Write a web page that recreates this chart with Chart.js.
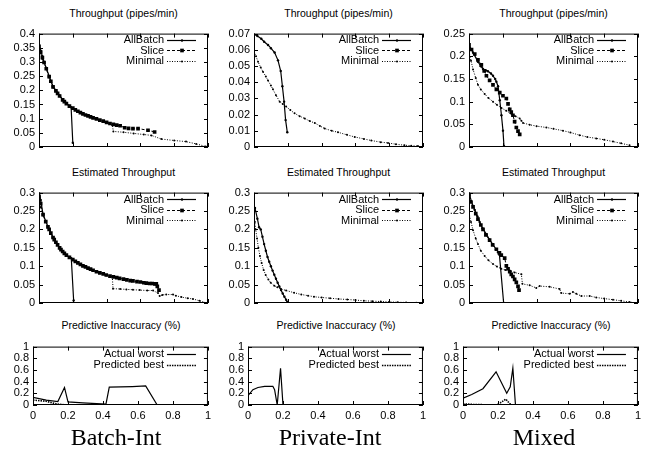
<!DOCTYPE html>
<html>
<head>
<meta charset="utf-8">
<script src="https://cdn.jsdelivr.net/npm/chart.js@4.4.1/dist/chart.umd.min.js"></script>
<style>
  body { margin: 0; background: #fff; width: 651px; height: 454px; position: relative; overflow: hidden;
         font-family: "Liberation Sans", Arial, sans-serif; }
  canvas { position: absolute; }
  .title { position: absolute; width: 220px; text-align: center; font-size: 10.5px; line-height: 12px; color: #000; }
  .label { position: absolute; width: 200px; text-align: center; font-family: "Liberation Serif", "Times New Roman", serif;
           font-size: 24px; line-height: 26px; color: #000; }
</style>
</head>
<body>
<script>
// ---- data -------------------------------------------------------------
const xTicks = [0, 0.2, 0.4, 0.6, 0.8, 1];
const seriesNames = ["AllBatch", "Slice", "Minimal"];
const accuracyNames = ["Actual worst", "Predicted best"];
const columnLabels = ["Batch-Int", "Private-Int", "Mixed"];
const rowTitles = ["Throughput (pipes/min)", "Estimated Throughput", "Predictive Inaccuracy (%)"];
const thrMax = [0.4, 0.07, 0.25];
const thrStep = [0.05, 0.01, 0.05];
const estMax = [0.3, 0.3, 0.3];
const estStep = [0.05, 0.05, 0.05];
const errMax = [1, 1, 1];
const errStep = [0.2, 0.2, 0.2];

// throughput, Batch-Int
const thrBatchAll = [[0,0.36],[0.01,0.34],[0.02,0.32],[0.03,0.3],[0.043,0.279],[0.06,0.25],[0.083,0.214],[0.1,0.2],
  [0.122,0.182],[0.14,0.167],[0.162,0.155],[0.18,0.145],[0.19,0.14],[0.2,0.015]];
const thrBatchSlice = [[0,0.355],[0.01,0.335],[0.02,0.315],[0.03,0.298],[0.043,0.276],[0.06,0.248],[0.07,0.232],[0.083,0.212],
  [0.1,0.198],[0.11,0.189],[0.122,0.18],[0.14,0.166],[0.15,0.16],[0.162,0.153],[0.18,0.144],[0.2,0.137],[0.215,0.131],
  [0.23,0.126],[0.245,0.121],[0.26,0.117],[0.275,0.113],[0.29,0.11],[0.305,0.106],[0.32,0.103],[0.34,0.099],[0.36,0.095],
  [0.38,0.091],[0.4,0.087],[0.42,0.083],[0.44,0.08],[0.46,0.077],[0.48,0.075],[0.507,0.068],[0.53,0.066],[0.556,0.065],
  [0.586,0.065],[0.645,0.059],[0.684,0.053]];
const thrBatchMin = [[0,0.34],[0.01,0.33],[0.02,0.31],[0.03,0.295],[0.043,0.275],[0.06,0.245],[0.083,0.21],[0.1,0.197],
  [0.122,0.179],[0.14,0.165],[0.162,0.152],[0.18,0.143],[0.2,0.136],[0.23,0.125],[0.26,0.116],[0.29,0.109],[0.32,0.102],
  [0.36,0.094],[0.4,0.086],[0.434,0.077],[0.44,0.055],[0.5,0.052],[0.56,0.048],[0.62,0.044],[0.665,0.041],[0.724,0.028],
  [0.8,0.023],[0.87,0.019],[0.93,0.011],[0.986,0.002]];

// throughput, Private-Int
const thrPrivAll = [[0,0.0696],[0.02,0.0685],[0.043,0.0668],[0.06,0.065],[0.083,0.063],[0.1,0.061],[0.122,0.0583],
  [0.142,0.0535],[0.158,0.0469],[0.168,0.0375],[0.178,0.028],[0.187,0.0166],[0.197,0.0091]];
const thrPrivSlice = [];
const thrPrivMin = [[0,0.059],[0.012,0.056],[0.024,0.0526],[0.04,0.049],[0.053,0.0465],[0.07,0.0435],[0.083,0.041],[0.1,0.038],
  [0.112,0.0356],[0.13,0.032],[0.152,0.028],[0.17,0.0265],[0.19,0.025],[0.215,0.0228],[0.24,0.0208],[0.27,0.019],[0.3,0.0176],
  [0.33,0.016],[0.36,0.0148],[0.39,0.013],[0.418,0.0114],[0.46,0.01],[0.497,0.0091],[0.55,0.0075],[0.596,0.0062],[0.65,0.005],
  [0.694,0.004],[0.75,0.003],[0.793,0.0025],[0.84,0.0017],[0.89,0.0011],[0.93,0.0008],[0.97,0.0006]];

// throughput, Mixed
const thrMixAll = [[0,0.225],[0.024,0.208],[0.053,0.188],[0.07,0.178],[0.083,0.172],[0.1,0.169],[0.112,0.167],[0.13,0.162],
  [0.142,0.157],[0.155,0.15],[0.162,0.144],[0.172,0.134],[0.182,0.103],[0.192,0.07],[0.201,0.036],[0.207,0.002]];
const thrMixSlice = [[0,0.225],[0.015,0.215],[0.034,0.205],[0.053,0.192],[0.073,0.181],[0.09,0.168],[0.103,0.157],[0.122,0.147],
  [0.142,0.137],[0.162,0.127],[0.182,0.12],[0.201,0.113],[0.221,0.107],[0.231,0.095],[0.241,0.083],[0.25,0.077],[0.26,0.07],
  [0.27,0.056],[0.28,0.043],[0.29,0.035],[0.3,0.028]];
const thrMixMin = [[0,0.21],[0.012,0.19],[0.024,0.171],[0.04,0.152],[0.053,0.137],[0.07,0.127],[0.093,0.117],[0.115,0.108],
  [0.142,0.1],[0.165,0.093],[0.192,0.086],[0.22,0.08],[0.251,0.073],[0.275,0.068],[0.3,0.063],[0.31,0.058],[0.32,0.053],
  [0.359,0.049],[0.4,0.046],[0.458,0.043],[0.5,0.04],[0.556,0.036],[0.6,0.032],[0.655,0.026],[0.7,0.022],[0.753,0.019],
  [0.8,0.016],[0.852,0.012],[0.9,0.008],[0.95,0.004]];

// estimated throughput, Batch-Int
const estBatchAll = [[0,0.3],[0.01,0.28],[0.024,0.241],[0.04,0.222],[0.053,0.208],[0.07,0.19],[0.083,0.179],[0.1,0.165],
  [0.122,0.15],[0.14,0.14],[0.162,0.13],[0.18,0.125],[0.191,0.122],[0.205,0.007]];
const estBatchSlice = [[0,0.29],[0.01,0.27],[0.024,0.24],[0.04,0.221],[0.053,0.207],[0.06,0.2],[0.07,0.19],[0.083,0.178],
  [0.09,0.172],[0.1,0.165],[0.11,0.158],[0.122,0.15],[0.13,0.145],[0.14,0.14],[0.15,0.135],[0.162,0.13],[0.18,0.124],
  [0.2,0.118],[0.215,0.113],[0.23,0.109],[0.245,0.105],[0.26,0.101],[0.275,0.098],[0.29,0.095],[0.305,0.092],[0.32,0.089],
  [0.34,0.085],[0.36,0.082],[0.38,0.079],[0.398,0.076],[0.42,0.073],[0.44,0.071],[0.46,0.069],[0.477,0.067],[0.5,0.065],
  [0.52,0.063],[0.54,0.061],[0.556,0.06],[0.58,0.058],[0.6,0.057],[0.62,0.055],[0.635,0.054],[0.655,0.053],[0.67,0.053],
  [0.685,0.052],[0.694,0.052],[0.7,0.045],[0.71,0.035]];
const estBatchMin = [[0,0.27],[0.01,0.26],[0.024,0.238],[0.04,0.22],[0.053,0.206],[0.07,0.189],[0.083,0.177],[0.1,0.164],
  [0.122,0.149],[0.14,0.139],[0.162,0.129],[0.18,0.123],[0.2,0.117],[0.23,0.108],[0.26,0.1],[0.29,0.094],[0.32,0.088],
  [0.36,0.081],[0.398,0.075],[0.434,0.071],[0.438,0.039],[0.48,0.038],[0.517,0.037],[0.556,0.036],[0.596,0.035],[0.64,0.034],
  [0.675,0.034],[0.704,0.027],[0.714,0.019],[0.73,0.022],[0.753,0.023],[0.793,0.023],[0.81,0.02],[0.842,0.016],[0.88,0.013],
  [0.911,0.011],[0.95,0.006],[0.994,0]];

// estimated throughput, Private-Int
const estPrivAll = [[0,0.26],[0.006,0.258],[0.02,0.229],[0.03,0.206],[0.04,0.2],[0.05,0.18],[0.06,0.16],[0.07,0.142],
  [0.08,0.125],[0.09,0.112],[0.1,0.1],[0.11,0.088],[0.12,0.077],[0.13,0.066],[0.14,0.055],[0.15,0.045],[0.16,0.035],
  [0.17,0.026],[0.18,0.017],[0.19,0.009],[0.197,0.003]];
const estPrivSlice = [];
const estPrivMin = [[0,0.237],[0.005,0.22],[0.01,0.2],[0.018,0.175],[0.026,0.15],[0.035,0.128],[0.045,0.109],[0.057,0.09],
  [0.069,0.076],[0.085,0.064],[0.099,0.055],[0.12,0.047],[0.138,0.043],[0.16,0.038],[0.19,0.034],[0.237,0.028],[0.28,0.023],
  [0.32,0.02],[0.355,0.017],[0.4,0.015],[0.45,0.013],[0.5,0.011],[0.552,0.0095],[0.6,0.008],[0.65,0.006],[0.7,0.005],
  [0.75,0.004],[0.8,0.003],[0.85,0.002],[0.9,0.0015],[0.96,0.0008]];

// estimated throughput, Mixed
const estMixAll = [[0,0.3],[0.015,0.275],[0.034,0.253],[0.05,0.235],[0.063,0.22],[0.08,0.203],[0.103,0.187],[0.12,0.173],
  [0.142,0.159],[0.16,0.146],[0.172,0.138],[0.18,0.131],[0.205,0]];
const estMixSlice = [[0,0.294],[0.01,0.275],[0.024,0.261],[0.04,0.243],[0.053,0.228],[0.07,0.212],[0.083,0.2],[0.1,0.185],
  [0.122,0.171],[0.14,0.158],[0.162,0.146],[0.18,0.136],[0.191,0.13],[0.211,0.122],[0.221,0.101],[0.231,0.093],[0.241,0.085],
  [0.25,0.078],[0.26,0.072],[0.27,0.064],[0.28,0.056],[0.29,0.045],[0.296,0.035]];
const estMixMin = [[0,0.245],[0.012,0.22],[0.024,0.198],[0.04,0.175],[0.053,0.16],[0.07,0.142],[0.093,0.128],[0.115,0.116],
  [0.142,0.106],[0.165,0.099],[0.191,0.093],[0.215,0.09],[0.241,0.088],[0.27,0.083],[0.31,0.078],[0.316,0.052],[0.359,0.048],
  [0.398,0.041],[0.418,0.046],[0.477,0.044],[0.536,0.038],[0.546,0.027],[0.596,0.025],[0.615,0.03],[0.635,0.025],[0.665,0.019],
  [0.714,0.019],[0.753,0.015],[0.8,0.012],[0.852,0.009],[0.9,0.006],[0.95,0.0025],[0.99,0]];

// predictive inaccuracy
const errBatchWorst = [[0,0.13],[0.076,0.084],[0.142,0.058],[0.18,0.3],[0.2,0.053],[0.284,0.037],[0.417,0.016],
  [0.436,0.305],[0.568,0.316],[0.644,0.326],[0.71,0],[1,0]];
const errBatchBest = [[0,0.084],[0.076,0.063],[0.136,0.016],[0.2,0],[1,0]];
const errPrivWorst = [[0,0.16],[0.028,0.263],[0.057,0.3],[0.095,0.32],[0.142,0.32],[0.152,0.263],[0.167,0],[0.186,0.63],
  [0.2,0],[1,0]];
const errPrivBest = [[0,0],[1,0]];
const errMixWorst = [[0,0.116],[0.05,0.18],[0.114,0.279],[0.189,0.568],[0.25,0.2],[0.27,0.31],[0.285,0.63],[0.3,0],[1,0]];
const errMixBest = [[0,0.02],[0.05,0.01],[0.19,0],[0.215,0.04],[0.245,0.1],[0.265,0.03],[0.28,0],[1,0]];

// ---- styles -----------------------------------------------------------
const lineStyles = {
  "AllBatch":       { borderDash: [], borderWidth: 1.2, pointStyle: "circle", pointRadius: 1.2 },
  "Slice":          { borderDash: [3, 2], borderWidth: 1, pointStyle: "rect", pointRadius: 2.6 },
  "Minimal":        { borderDash: [1, 1.5], borderWidth: 1, pointStyle: "circle", pointRadius: 1 },
  "Actual worst":   { borderDash: [], borderWidth: 1.2, pointStyle: "circle", pointRadius: 0 },
  "Predicted best": { borderDash: [1.5, 1], borderWidth: 1.6, pointStyle: "circle", pointRadius: 0 }
};

const rows = [
  { top: 29, height: 124, lefts: [39, 254, 469], width: 169, axisW: 36, xh: 6, titleY: 13, keyTop: 6, keyGap: 10.5 },
  { top: 188, height: 121, lefts: [39, 254, 469], width: 169, axisW: 36, xh: 6, titleY: 172, keyTop: 6.5, keyGap: 10.5 },
  { top: 342, height: 63, lefts: [33, 248, 463], width: 176, axisW: 30, xh: 20, titleY: 325, keyTop: 7, keyGap: 11 }
];

const panels = [
  { row: 0, col: 0, yMax: thrMax[0], yStep: thrStep[0], names: seriesNames, series: [thrBatchAll, thrBatchSlice, thrBatchMin] },
  { row: 0, col: 1, yMax: thrMax[1], yStep: thrStep[1], names: seriesNames, series: [thrPrivAll, thrPrivSlice, thrPrivMin] },
  { row: 0, col: 2, yMax: thrMax[2], yStep: thrStep[2], names: seriesNames, series: [thrMixAll, thrMixSlice, thrMixMin] },
  { row: 1, col: 0, yMax: estMax[0], yStep: estStep[0], names: seriesNames, series: [estBatchAll, estBatchSlice, estBatchMin] },
  { row: 1, col: 1, yMax: estMax[1], yStep: estStep[1], names: seriesNames, series: [estPrivAll, estPrivSlice, estPrivMin] },
  { row: 1, col: 2, yMax: estMax[2], yStep: estStep[2], names: seriesNames, series: [estMixAll, estMixSlice, estMixMin] },
  { row: 2, col: 0, yMax: errMax[0], yStep: errStep[0], names: accuracyNames, series: [errBatchWorst, errBatchBest] },
  { row: 2, col: 1, yMax: errMax[1], yStep: errStep[1], names: accuracyNames, series: [errPrivWorst, errPrivBest] },
  { row: 2, col: 2, yMax: errMax[2], yStep: errStep[2], names: accuracyNames, series: [errMixWorst, errMixBest] }
];

const FONT = "'Liberation Sans', Arial, sans-serif";
const fmt = v => String(+(+v).toFixed(3));

// box around the plot with gnuplot style inward ticks on all sides
const framePlugin = {
  id: "frame",
  afterDatasetsDraw(chart) {
    const { ctx, chartArea: a, scales: { x, y } } = chart;
    const tl = 4;
    ctx.save();
    ctx.strokeStyle = "#000";
    ctx.lineWidth = 1;
    ctx.setLineDash([]);
    ctx.strokeRect(a.left + 0.5, a.top + 0.5, a.right - a.left - 1, a.bottom - a.top - 1);
    ctx.beginPath();
    y.ticks.forEach(t => {
      const py = Math.round(y.getPixelForValue(t.value)) + 0.5;
      ctx.moveTo(a.left, py); ctx.lineTo(a.left + tl, py);
      ctx.moveTo(a.right - tl, py); ctx.lineTo(a.right, py);
    });
    xTicks.forEach(v => {
      const px = Math.round(x.getPixelForValue(v)) + 0.5;
      ctx.moveTo(px, a.bottom); ctx.lineTo(px, a.bottom - tl);
      ctx.moveTo(px, a.top); ctx.lineTo(px, a.top + tl);
    });
    ctx.stroke();
    ctx.restore();
  }
};

// key in the top right corner: label, then a line sample with its marker
const keyPlugin = {
  id: "gnuKey",
  afterDraw(chart, args, opts) {
    const { ctx, chartArea: a } = chart;
    ctx.save();
    ctx.font = "11px " + FONT;
    ctx.textAlign = "right";
    ctx.textBaseline = "middle";
    chart.data.datasets.forEach((ds, i) => {
      const cy = a.top + opts.top + i * opts.gap;
      ctx.fillStyle = "#000";
      ctx.fillText(ds.label, a.right - 44, cy + 0.5);
      ctx.strokeStyle = "#000";
      ctx.lineWidth = ds.borderWidth;
      ctx.setLineDash(ds.borderDash);
      ctx.beginPath();
      ctx.moveTo(a.right - 41, Math.round(cy) + 0.5);
      ctx.lineTo(a.right - 12, Math.round(cy) + 0.5);
      ctx.stroke();
      if (ds.pointRadius > 0) {
        const mx = a.right - 26, my = Math.round(cy) + 0.5;
        ctx.beginPath();
        if (ds.pointStyle === "rect") {
          const s = ds.pointRadius / Math.SQRT2;
          ctx.rect(mx - s, my - s, 2 * s, 2 * s);
        } else {
          ctx.arc(mx, my, ds.pointRadius, 0, Math.PI * 2);
        }
        ctx.fill();
      }
    });
    ctx.restore();
  }
};

function addText(cls, text, left, top) {
  const d = document.createElement("div");
  d.className = cls;
  d.textContent = text;
  d.style.left = left + "px";
  d.style.top = top + "px";
  document.body.appendChild(d);
}

panels.forEach(p => {
  const r = rows[p.row];
  const left = r.lefts[p.col];
  const padTop = 6, padRight = 6;
  const canvas = document.createElement("canvas");
  canvas.width = r.axisW + r.width + padRight;
  canvas.height = padTop + r.height + r.xh;
  canvas.style.left = (left - r.axisW) + "px";
  canvas.style.top = (r.top - padTop) + "px";
  document.body.appendChild(canvas);

  addText("title", rowTitles[p.row], left + r.width / 2 - 110, r.titleY - 6);

  const showX = p.row === 2;
  new Chart(canvas.getContext("2d"), {
    type: "line",
    data: {
      datasets: p.names.map((name, i) => Object.assign({
        label: name,
        data: p.series[i].map(([x, y]) => ({ x, y })),
        borderColor: "#000",
        backgroundColor: "#000",
        pointBackgroundColor: "#000",
        pointBorderWidth: 0,
        pointHoverRadius: 0,
        tension: 0,
        fill: false
      }, lineStyles[name]))
    },
    options: {
      responsive: false,
      animation: false,
      devicePixelRatio: 1,
      layout: { padding: { top: padTop, right: padRight, left: 0, bottom: showX ? 0 : r.xh } },
      plugins: {
        legend: { display: false },
        tooltip: { enabled: false },
        gnuKey: { top: r.keyTop, gap: r.keyGap }
      },
      scales: {
        x: {
          type: "linear",
          min: 0,
          max: 1,
          display: showX,
          grid: { display: false, drawTicks: false },
          border: { display: false },
          ticks: { stepSize: 0.2, autoSkip: false, color: "#000", font: { family: FONT, size: 11 }, padding: 4,
                   maxRotation: 0, callback: v => fmt(v) },
          afterFit: s => { s.height = r.xh; }
        },
        y: {
          min: 0,
          max: p.yMax,
          grid: { display: false, drawTicks: false },
          border: { display: false },
          ticks: { stepSize: p.yStep, autoSkip: false, color: "#000", font: { family: FONT, size: 11 }, padding: 4,
                   callback: v => fmt(v) },
          afterFit: s => { s.width = r.axisW; }
        }
      }
    },
    plugins: [framePlugin, keyPlugin]
  });
});

const labelCenters = [116, 330, 544];
columnLabels.forEach((t, i) => addText("label", t, labelCenters[i] - 100, 424));
</script>
</body>
</html>
